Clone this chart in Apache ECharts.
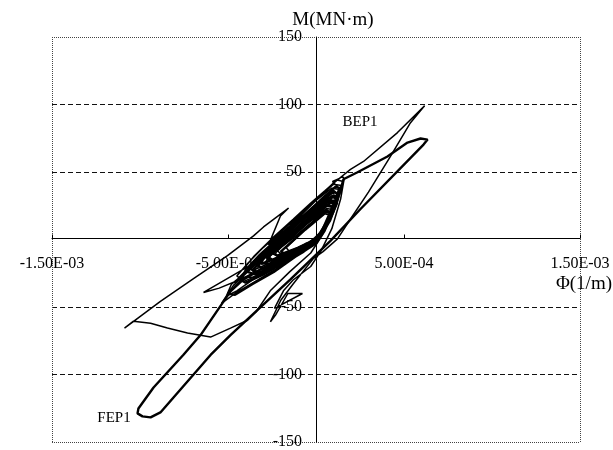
<!DOCTYPE html>
<html>
<head>
<meta charset="utf-8">
<script src="https://cdn.jsdelivr.net/npm/echarts@6/dist/echarts.min.js"></script>
<style>
  html, body { margin: 0; padding: 0; background: #fff; }
  #main { width: 613px; height: 450px; }
</style>
</head>
<body>
<div id="main"></div>
<script>
// tick labels
const xTickValues = [-1.5e-3, -5e-4, 5e-4, 1.5e-3]
const xTickLabels = ['-1.50E-03', '-5.00E-04', '5.00E-04', '1.50E-03']
const yTickValues = [-150, -100, -50, 0, 50, 100, 150]
const yTickLabels = ['-150', '-100', '-50', '', '50', '100', '150']

// BEP1 curve [phi (1/m), M (MN·m)]  (thin line)
const bep1 = [
  [0, 0],
  [0.5e-4, 10], [1.0e-4, 26], [1.1e-4, 31], [0.6e-4, 31], [-0.4e-4, 20], [-1.5e-4, 6], [-2.6e-4, -8], [-3.3e-4, -17], [-3.1e-4, -22], [-2.2e-4, -18], [-1.0e-4, -9], [0, -2],
  [0.6e-4, 12], [1.2e-4, 30], [1.35e-4, 37], [0.9e-4, 38], [0, 29], [-1.0e-4, 16], [-2.1e-4, 2], [-3.2e-4, -11], [-4.0e-4, -22], [-4.2e-4, -28], [-3.6e-4, -28], [-2.5e-4, -22], [-1.2e-4, -12], [-0.2e-4, -4],
  [0.5e-4, 8], [0.9e-4, 20], [0.6e-4, 22], [-0.5e-4, 12], [-1.6e-4, -1], [-2.3e-4, -10], [-2.1e-4, -14], [-1.2e-4, -9], [0.1e-4, 0],
  [0.7e-4, 16], [1.2e-4, 33], [1.45e-4, 40], [1.0e-4, 41], [0.3e-4, 33], [-0.6e-4, 22], [-1.8e-4, 8], [-3.0e-4, -6], [-3.9e-4, -18], [-4.5e-4, -27], [-4.1e-4, -31], [-3.0e-4, -25], [-1.6e-4, -15], [-0.4e-4, -6],
  [0.4e-4, 6], [0.9e-4, 21], [1.2e-4, 29], [0.8e-4, 29], [-0.3e-4, 17], [-1.3e-4, 4], [-2.4e-4, -9], [-2.9e-4, -17], [-2.5e-4, -19], [-1.4e-4, -12], [-0.3e-4, -4],
  [0.4e-4, 5], [0.9e-4, 22], [1.3e-4, 38], [0.94e-4, 43], [1.3e-4, 45], [1.96e-4, 52], [2.7e-4, 57.8], [4.63e-4, 79.2], [6.17e-4, 99],
  [5.37e-4, 86.5], [4.23e-4, 61.5], [2.98e-4, 35.1], [1.96e-4, 15.2], [1.22e-4, 0.5], [0.4e-4, -9], [-0.14e-4, -14], [-1.3e-4, -33], [-2.0e-4, -45], [-2.59e-4, -61],
  [-2.3e-4, -56], [-1.6e-4, -40], [-0.77e-4, -40], [-2.36e-4, -51], [-1.85e-4, -38], [-1.3e-4, -30], [-0.3e-4, -20], [0.3e-4, -8], [0.9e-4, 8], [1.4e-4, 30], [1.6e-4, 45], [1.5e-4, 47], [1.0e-4, 42], [-0.2e-4, 27], [-1.5e-4, 10], [-2.7e-4, -4],
  [-2.02e-4, 17.4], [-1.56e-4, 23.3], [-2.98e-4, 9.3], [-3.55e-4, 2.7], [-5.03e-4, -12], [-6.96e-4, -28.9], [-8.84e-4, -45.8], [-1.088e-3, -65.7],
  [-1.037e-3, -60.5], [-9.4e-4, -62], [-8.44e-4, -65.6], [-7.3e-4, -69.3], [-5.99e-4, -72.3], [-4.86e-4, -65.6], [-3.89e-4, -59.8], [-3.4e-4, -53.5], [-2.6e-4, -38], [-1.5e-4, -24], [-0.3e-4, -10],
  [0.5e-4, 6], [1.1e-4, 25], [1.3e-4, 34], [0.9e-4, 35], [-0.2e-4, 24], [-1.4e-4, 10], [-2.6e-4, -4], [-3.72e-4, -19], [-6.39e-4, -39.2], [-5.5e-4, -36], [-4.0e-4, -28], [-2.4e-4, -17], [-0.8e-4, -6],
  [0.4e-4, 6], [1.0e-4, 22], [0.6e-4, 23], [-0.7e-4, 10], [-2.0e-4, -4], [-3.4e-4, -18], [-4.69e-4, -34], [-5.37e-4, -47.3], [-4.6e-4, -40], [-3.3e-4, -30], [-1.8e-4, -18], [-0.4e-4, -6],
  [0.5e-4, 10], [1.1e-4, 27], [1.3e-4, 35], [0.9e-4, 34], [-0.1e-4, 23], [-1.1e-4, 11], [-2.2e-4, -2], [-3.3e-4, -14], [-3.7e-4, -22], [-3.2e-4, -24], [-2.0e-4, -17], [-0.8e-4, -8],
  [0.3e-4, 6], [0.7e-4, 18], [1.0e-4, 28], [0.7e-4, 29], [-0.2e-4, 20], [-1.2e-4, 8], [-2.3e-4, -5], [-3.4e-4, -18], [-4.8e-4, -33], [-5.1e-4, -42], [-4.5e-4, -38], [-3.4e-4, -28], [-2.0e-4, -18], [-0.6e-4, -8],
  [0.4e-4, 4], [1.0e-4, 20], [1.4e-4, 36], [1.55e-4, 43], [1.2e-4, 44], [0.5e-4, 36], [-0.3e-4, 27], [-1.3e-4, 15], [-2.4e-4, 2], [-3.5e-4, -12], [-4.0e-4, -20], [-3.6e-4, -23], [-2.4e-4, -16], [-1.0e-4, -7], [0, -1],
  [0.6e-4, 10], [1.1e-4, 26], [0.8e-4, 27], [-0.2e-4, 16], [-1.4e-4, 3], [-2.7e-4, -11], [-3.6e-4, -22], [-3.3e-4, -25], [-2.2e-4, -19], [-0.9e-4, -9], [0.1e-4, -1],
  [0.7e-4, 14], [1.3e-4, 32], [1.0e-4, 33], [0.1e-4, 25], [-0.9e-4, 14], [-2.0e-4, 2], [-3.0e-4, -9], [-3.5e-4, -16], [-3.0e-4, -18], [-1.8e-4, -11], [-0.6e-4, -4],
  [0.3e-4, 4], [0.7e-4, 15], [1.05e-4, 27], [0.75e-4, 28], [-0.3e-4, 17], [-1.0e-4, 9], [-1.9e-4, -1], [-2.8e-4, -12], [-3.3e-4, -20], [-2.9e-4, -21], [-2.0e-4, -15], [-1.1e-4, -9], [-0.2e-4, -3],
  [0.4e-4, 7], [0.85e-4, 21], [0.55e-4, 21], [-0.4e-4, 11], [-1.3e-4, 1], [-2.2e-4, -8], [-2.0e-4, -11], [-1.0e-4, -6], [0, 0],
  [0.6e-4, 13], [1.15e-4, 30], [0.95e-4, 31], [0, 21], [-1.1e-4, 7], [-2.3e-4, -7], [-3.1e-4, -16], [-2.8e-4, -19], [-1.7e-4, -12], [-0.6e-4, -5],
  [0.2e-4, 2], [0.8e-4, 18], [0.5e-4, 19], [-0.6e-4, 7], [-1.7e-4, -6], [-1.5e-4, -9], [-0.6e-4, -3], [0, 0]
]

// FEP1 curve [phi (1/m), M (MN·m)]  (thick line)
const fep1 = [
  [0, 0],
  [0.7e-4, 15], [1.1e-4, 28], [0.7e-4, 29], [-0.5e-4, 15], [-1.8e-4, 0], [-3.0e-4, -14], [-3.6e-4, -23], [-3.2e-4, -26], [-2.0e-4, -19], [-0.7e-4, -9], [0.2e-4, 1],
  [0.9e-4, 18], [1.3e-4, 33], [1.0e-4, 36], [-0.1e-4, 24], [-1.3e-4, 10], [-2.6e-4, -5], [-3.5e-4, -17], [-3.9e-4, -24], [-3.4e-4, -26], [-2.0e-4, -17], [-0.5e-4, -6], [0.5e-4, 8],
  [1.0e-4, 24], [0.6e-4, 26], [-0.6e-4, 14], [-1.9e-4, -1], [-2.8e-4, -12], [-2.5e-4, -15], [-1.2e-4, -8], [0.2e-4, 2], [0.8e-4, 14],
  [1.2e-4, 28], [1.56e-4, 44.6], [2.36e-4, 49.8], [4.06e-4, 61.5], [5.2e-4, 71.8], [5.94e-4, 74.8], [6.34e-4, 74.0], [6.11e-4, 70.3],
  [2.53e-4, 22.6], [0.82e-4, -1.0], [-1.45e-4, -29.6], [-4.86e-4, -70.8], [-5.99e-4, -85.5], [-8.84e-4, -128.1],
  [-9.4e-4, -131.8], [-9.86e-4, -131], [-1.014e-3, -128.8], [-1.009e-3, -125.2], [-9.23e-4, -109.6], [-7.53e-4, -85.4], [-6.56e-4, -70.8], [-4.86e-4, -38.4],
  [-4.0e-4, -28], [-2.8e-4, -20], [-1.3e-4, -10], [0, -2], [0.6e-4, 10], [1.0e-4, 24], [0.6e-4, 25], [-0.5e-4, 12], [-1.7e-4, -2], [-2.8e-4, -14], [-2.5e-4, -16], [-1.2e-4, -9], [0, 0],
  [0.5e-4, 9], [1.0e-4, 22], [1.25e-4, 31], [0.9e-4, 32], [0.1e-4, 24], [-0.9e-4, 13], [-2.0e-4, 0], [-3.0e-4, -12], [-3.8e-4, -21], [-4.4e-4, -29], [-4.0e-4, -32], [-3.0e-4, -26], [-1.8e-4, -17], [-0.6e-4, -8],
  [0.3e-4, 3], [0.8e-4, 15], [1.2e-4, 30], [1.4e-4, 38], [1.1e-4, 39], [0.4e-4, 31], [-0.4e-4, 21], [-1.4e-4, 9], [-2.4e-4, -3], [-3.3e-4, -14], [-3.1e-4, -18], [-2.1e-4, -13], [-0.9e-4, -6], [0.1e-4, 0],
  [0.6e-4, 11], [0.9e-4, 20], [0.5e-4, 20], [-0.6e-4, 8], [-1.5e-4, -3], [-2.0e-4, -9], [-1.7e-4, -11], [-0.8e-4, -6], [0, 0],
  [-0.6e-4, -5], [-1.8e-4, -13], [-3.0e-4, -21], [-4.3e-4, -31], [-5.0e-4, -40], [-4.6e-4, -41], [-3.6e-4, -33], [-2.4e-4, -24], [-1.2e-4, -13], [0, -3],
  [0.7e-4, 12], [1.2e-4, 27], [0.9e-4, 28], [-0.2e-4, 17], [-1.3e-4, 4], [-2.5e-4, -10], [-2.2e-4, -12], [-1.0e-4, -6], [0, 0]
]

const chart = echarts.init(document.getElementById('main'))
const serif = '"Liberation Serif", "Times New Roman", serif'

function xLabel(v) {
  const i = xTickValues.findIndex(t => Math.abs(t - v) < 1e-9)
  return i >= 0 ? xTickLabels[i] : ''
}
function yLabel(v) {
  const i = yTickValues.indexOf(Math.round(v))
  return i >= 0 ? yTickLabels[i] : ''
}

const option = {
  animation: false,
  backgroundColor: '#fff',
  grid: { left: 52, right: 33, top: 37, bottom: 6 },
  xAxis: [{
    type: 'value',
    min: -1.5e-3, max: 1.5e-3, interval: 1e-3,
    position: 'bottom',
    offset: -203.5, // move the whole axis (line + labels) up to M = 0
    axisLine: { onZero: false, lineStyle: { color: '#000', width: 1 } },
    axisTick: { show: true, inside: true, length: 4, lineStyle: { color: '#000' } },
    axisLabel: { formatter: xLabel, margin: 17, color: '#000', fontSize: 16, fontFamily: serif, showMinLabel: true, showMaxLabel: true },
    splitLine: { show: false }
  }, {
    // only used for the dotted frame (left / right)
    type: 'value', position: 'top',
    min: -1.5e-3, max: 1.5e-3, interval: 3e-3,
    axisLine: { show: false }, axisTick: { show: false }, axisLabel: { show: false },
    splitLine: { show: true, lineStyle: { color: '#444', type: 'dotted', width: 1 } }
  }],
  yAxis: [{
    type: 'value',
    min: -150, max: 150, interval: 50,
    position: 'left',
    offset: -264, // move the axis to phi = 0
    axisLine: { onZero: false, lineStyle: { color: '#000', width: 1 } },
    axisTick: { show: false },
    axisLabel: { formatter: yLabel, margin: 14, color: '#000', fontSize: 16, fontFamily: serif },
    splitLine: {
      show: true,
      lineStyle: {
        // -150 .. 150 : no dashed line at the frame or at 0
        color: ['rgba(0,0,0,0)', '#111', '#111', 'rgba(0,0,0,0)', '#111', '#111', 'rgba(0,0,0,0)'],
        type: [5, 3], width: 1
      }
    }
  }, {
    // dotted frame (top / bottom)
    type: 'value', position: 'right',
    min: -150, max: 150, interval: 300,
    axisLine: { show: false }, axisTick: { show: false }, axisLabel: { show: false },
    splitLine: { show: true, lineStyle: { color: '#444', type: 'dotted', width: 1 } }
  }],
  series: [{
    name: 'BEP1',
    type: 'line',
    data: bep1,
    showSymbol: false,
    lineStyle: { color: '#000', width: 1.5 }
  }, {
    name: 'FEP1',
    type: 'line',
    data: fep1,
    showSymbol: false,
    lineStyle: { color: '#000', width: 2.4 }
  }],
  graphic: [
    { type: 'text', x: 333, y: 20, style: { text: 'M(MN·m)', font: '19px ' + serif, fill: '#000', align: 'center', textAlign: 'center', verticalAlign: 'middle', textVerticalAlign: 'middle' } },
    { type: 'text', x: 612, y: 284, style: { text: 'Φ(1/m)', font: '19px ' + serif, fill: '#000', align: 'right', textAlign: 'right', verticalAlign: 'middle', textVerticalAlign: 'middle' } },
    { type: 'text', x: 360, y: 122, style: { text: 'BEP1', font: '15px ' + serif, fill: '#000', align: 'center', textAlign: 'center', verticalAlign: 'middle', textVerticalAlign: 'middle' } },
    { type: 'text', x: 114, y: 418, style: { text: 'FEP1', font: '15px ' + serif, fill: '#000', align: 'center', textAlign: 'center', verticalAlign: 'middle', textVerticalAlign: 'middle' } }
  ]
}
chart.setOption(option)
</script>
</body>
</html>
